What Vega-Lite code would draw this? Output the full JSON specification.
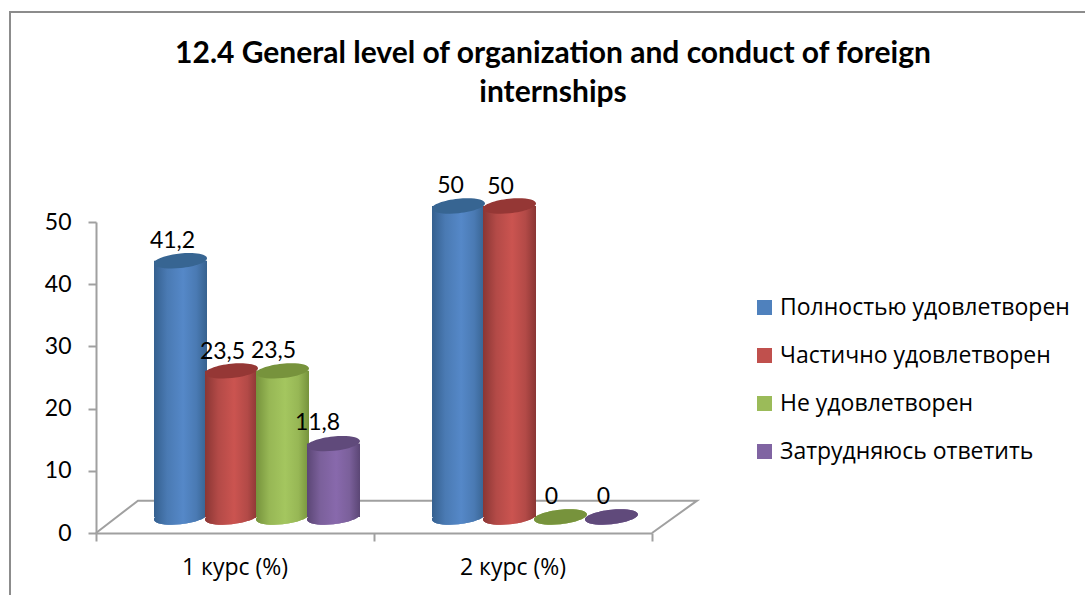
{
"$schema":"https://vega.github.io/schema/vega-lite/v6.json",
"width":1090,"height":600,
"autosize":"none",
"padding":{"left":10,"top":12,"right":0,"bottom":0},
"background":"white",
"view":{"stroke":"#8c8c8c","strokeWidth":2,"fill":"white"},
"title":{"text":["12.4 General level of organization and conduct of foreign","internships"],"font":"Lato","fontSize":30,"fontWeight":"bold","color":"#000000","anchor":"start","align":"center","baseline":"top","offset":-96,"dx":543,"lineHeight":39},
"data":{"values":[
{"course":"1 курс (%)","series":"Полностью удовлетворен","value":41.2,"label":"41,2"},
{"course":"1 курс (%)","series":"Частично удовлетворен","value":23.5,"label":"23,5"},
{"course":"1 курс (%)","series":"Не удовлетворен","value":23.5,"label":"23,5"},
{"course":"1 курс (%)","series":"Затрудняюсь ответить","value":11.8,"label":"11,8"},
{"course":"2 курс (%)","series":"Полностью удовлетворен","value":50,"label":"50"},
{"course":"2 курс (%)","series":"Частично удовлетворен","value":50,"label":"50"},
{"course":"2 курс (%)","series":"Не удовлетворен","value":0,"label":"0"},
{"course":"2 курс (%)","series":"Затрудняюсь ответить","value":0,"label":"0"}
]},
"encoding":{
"x":{"field":"course","type":"nominal","scale":{"domain":["1 курс (%)","2 курс (%)"],"range":[86,642],"paddingInner":0,"paddingOuter":0},"axis":null},
"xOffset":{"field":"series","type":"nominal","sort":["Полностью удовлетворен","Частично удовлетворен","Не удовлетворен","Затрудняюсь ответить"],"scale":{"domain":["Полностью удовлетворен","Частично удовлетворен","Не удовлетворен","Затрудняюсь ответить"],"range":[59,263],"paddingInner":0,"paddingOuter":0}},
"y":{"field":"value","type":"quantitative","scale":{"domain":[0,50],"range":[521,210],"nice":false,"zero":true},"axis":{"title":null,"values":[0,10,20,30,40,50],"grid":false,"offset":-86,"domainColor":"#a0a0a0","domainWidth":2,"tickColor":"#a0a0a0","tickWidth":2,"tickSize":8,"labelFont":"Lato","labelFontSize":23,"labelColor":"#000","labelPadding":17}}
},
"resolve":{"scale":{"x":"independent"},"axis":{"x":"independent"}},
"layer":[
{"data":{"values":[{"k":1,"p":0,"v":0},{"k":2,"p":0.151,"v":5.2},{"k":3,"p":2.162,"v":5.2},{"k":4,"p":2,"v":0}]},
 "mark":{"type":"line","color":"#a0a0a0","strokeWidth":2},
 "encoding":{"xOffset":null,"x":{"field":"p","type":"quantitative","scale":{"domain":[0,2],"range":[86,642],"nice":false,"zero":false},"axis":{"orient":"bottom","title":null,"values":[0,1,2],"labels":false,"grid":false,"offset":-79,"domainColor":"#a0a0a0","domainWidth":2,"tickColor":"#a0a0a0","tickWidth":2,"tickSize":8}},"y":{"field":"v","type":"quantitative"},"order":{"field":"k"}}},
{"mark":{"type":"point","filled":true,"opacity":1,"yOffset":-16,"shape":"M-1,0.1A1,0.27 -6 1 1 1,-0.1A1,0.27 -6 1 1 -1,0.1Z","size":2809},
 "encoding":{"x":{"field":"course","type":"nominal","scale":{"domain":["1 курс (%)","2 курс (%)"],"range":[86,642],"paddingInner":0,"paddingOuter":0},"axis":{"orient":"bottom","title":null,"labelAngle":0,"labelFont":"Open Sans","labelFontSize":23,"labelColor":"#000","ticks":false,"domain":false,"offset":-79,"labelPadding":23}},"y":{"datum":0},"color":{"field":"series","type":"nominal","sort":["Полностью удовлетворен","Частично удовлетворен","Не удовлетворен","Затрудняюсь ответить"],"scale":{"domain":["Полностью удовлетворен","Частично удовлетворен","Не удовлетворен","Затрудняюсь ответить"],"range":["#4f81bd","#c0504d","#9bbb59","#8064a2"]},"legend":{"orient":"none","legendX":743,"legendY":284,"title":null,"symbolType":"square","symbolSize":225,"symbolStrokeWidth":0,"labelFont":"Open Sans","labelFontSize":23,"labelColor":"#000","labelOffset":4,"rowPadding":24,"labelLimit":330}}}},
{"transform":[{"filter":"datum.value>0 && datum.series=='Полностью удовлетворен'"}],
 "layer":[
 {"mark":{"type":"bar","width":53,"yOffset":-16,"y2Offset":-16,"color":{"gradient":"linear","x1":0,"x2":1,"y1":0,"y2":0,"stops":[{"offset":0,"color":"#35608f"},{"offset":0.25,"color":"#4a7ab3"},{"offset":0.55,"color":"#5588c8"},{"offset":0.8,"color":"#4a7ab3"},{"offset":1,"color":"#37628f"}]}},"encoding":{"y2":{"datum":0}}},
 {"mark":{"type":"point","filled":true,"opacity":1,"yOffset":-16,"shape":"M-1,0.1A1,0.27 -6 1 1 1,-0.1A1,0.27 -6 1 1 -1,0.1Z","size":2809,"color":{"gradient":"linear","x1":0,"x2":1,"y1":0,"y2":0,"stops":[{"offset":0,"color":"#35608f"},{"offset":0.25,"color":"#4a7ab3"},{"offset":0.55,"color":"#5588c8"},{"offset":0.8,"color":"#4a7ab3"},{"offset":1,"color":"#37628f"}]}},"encoding":{"y":{"datum":0}}}
 ]},
{"transform":[{"filter":"datum.series=='Полностью удовлетворен'"}],"mark":{"type":"point","filled":true,"opacity":1,"yOffset":-16,"shape":"M-1,0.1A1,0.27 -6 1 1 1,-0.1A1,0.27 -6 1 1 -1,0.1Z","size":2809,"color":"#376592"}},
{"transform":[{"filter":"datum.value>0 && datum.series=='Частично удовлетворен'"}],
 "layer":[
 {"mark":{"type":"bar","width":53,"yOffset":-16,"y2Offset":-16,"color":{"gradient":"linear","x1":0,"x2":1,"y1":0,"y2":0,"stops":[{"offset":0,"color":"#8a3634"},{"offset":0.25,"color":"#b34a47"},{"offset":0.55,"color":"#cb5450"},{"offset":0.8,"color":"#b34a47"},{"offset":1,"color":"#8a3634"}]}},"encoding":{"y2":{"datum":0}}},
 {"mark":{"type":"point","filled":true,"opacity":1,"yOffset":-16,"shape":"M-1,0.1A1,0.27 -6 1 1 1,-0.1A1,0.27 -6 1 1 -1,0.1Z","size":2809,"color":{"gradient":"linear","x1":0,"x2":1,"y1":0,"y2":0,"stops":[{"offset":0,"color":"#8a3634"},{"offset":0.25,"color":"#b34a47"},{"offset":0.55,"color":"#cb5450"},{"offset":0.8,"color":"#b34a47"},{"offset":1,"color":"#8a3634"}]}},"encoding":{"y":{"datum":0}}}
 ]},
{"transform":[{"filter":"datum.series=='Частично удовлетворен'"}],"mark":{"type":"point","filled":true,"opacity":1,"yOffset":-16,"shape":"M-1,0.1A1,0.27 -6 1 1 1,-0.1A1,0.27 -6 1 1 -1,0.1Z","size":2809,"color":"#953735"}},
{"transform":[{"filter":"datum.value>0 && datum.series=='Не удовлетворен'"}],
 "layer":[
 {"mark":{"type":"bar","width":53,"yOffset":-16,"y2Offset":-16,"color":{"gradient":"linear","x1":0,"x2":1,"y1":0,"y2":0,"stops":[{"offset":0,"color":"#76933c"},{"offset":0.25,"color":"#97b755"},{"offset":0.55,"color":"#a4c65f"},{"offset":0.8,"color":"#97b755"},{"offset":1,"color":"#76933c"}]}},"encoding":{"y2":{"datum":0}}},
 {"mark":{"type":"point","filled":true,"opacity":1,"yOffset":-16,"shape":"M-1,0.1A1,0.27 -6 1 1 1,-0.1A1,0.27 -6 1 1 -1,0.1Z","size":2809,"color":{"gradient":"linear","x1":0,"x2":1,"y1":0,"y2":0,"stops":[{"offset":0,"color":"#76933c"},{"offset":0.25,"color":"#97b755"},{"offset":0.55,"color":"#a4c65f"},{"offset":0.8,"color":"#97b755"},{"offset":1,"color":"#76933c"}]}},"encoding":{"y":{"datum":0}}}
 ]},
{"transform":[{"filter":"datum.series=='Не удовлетворен'"}],"mark":{"type":"point","filled":true,"opacity":1,"yOffset":-16,"shape":"M-1,0.1A1,0.27 -6 1 1 1,-0.1A1,0.27 -6 1 1 -1,0.1Z","size":2809,"color":"#77933c"}},
{"transform":[{"filter":"datum.value>0 && datum.series=='Затрудняюсь ответить'"}],
 "layer":[
 {"mark":{"type":"bar","width":53,"yOffset":-16,"y2Offset":-16,"color":{"gradient":"linear","x1":0,"x2":1,"y1":0,"y2":0,"stops":[{"offset":0,"color":"#5b4675"},{"offset":0.25,"color":"#7b609b"},{"offset":0.55,"color":"#8869ac"},{"offset":0.8,"color":"#7b609b"},{"offset":1,"color":"#5b4675"}]}},"encoding":{"y2":{"datum":0}}},
 {"mark":{"type":"point","filled":true,"opacity":1,"yOffset":-16,"shape":"M-1,0.1A1,0.27 -6 1 1 1,-0.1A1,0.27 -6 1 1 -1,0.1Z","size":2809,"color":{"gradient":"linear","x1":0,"x2":1,"y1":0,"y2":0,"stops":[{"offset":0,"color":"#5b4675"},{"offset":0.25,"color":"#7b609b"},{"offset":0.55,"color":"#8869ac"},{"offset":0.8,"color":"#7b609b"},{"offset":1,"color":"#5b4675"}]}},"encoding":{"y":{"datum":0}}}
 ]},
{"transform":[{"filter":"datum.series=='Затрудняюсь ответить'"}],"mark":{"type":"point","filled":true,"opacity":1,"yOffset":-16,"shape":"M-1,0.1A1,0.27 -6 1 1 1,-0.1A1,0.27 -6 1 1 -1,0.1Z","size":2809,"color":"#604a7b"}},
{"transform":[{"filter":"datum.series=='Полностью удовлетворен'"}],"mark":{"type":"text","font":"Lato","fontSize":23,"color":"#000","dx":-8,"yOffset":-36},"encoding":{"text":{"field":"label"}}},
{"transform":[{"filter":"datum.series=='Частично удовлетворен'"}],"mark":{"type":"text","font":"Lato","fontSize":23,"color":"#000","dx":-9,"yOffset":-35},"encoding":{"text":{"field":"label"}}},
{"transform":[{"filter":"datum.series=='Не удовлетворен'"}],"mark":{"type":"text","font":"Lato","fontSize":23,"color":"#000","dx":-9,"yOffset":-36},"encoding":{"text":{"field":"label"}}},
{"transform":[{"filter":"datum.series=='Затрудняюсь ответить' && datum.value>0"}],"mark":{"type":"text","font":"Lato","fontSize":23,"color":"#000","dx":-16,"yOffset":-37},"encoding":{"text":{"field":"label"}}},
{"transform":[{"filter":"datum.series=='Затрудняюсь ответить' && datum.value==0"}],"mark":{"type":"text","font":"Lato","fontSize":23,"color":"#000","dx":-8,"yOffset":-36},"encoding":{"text":{"field":"label"}}}
]
}
